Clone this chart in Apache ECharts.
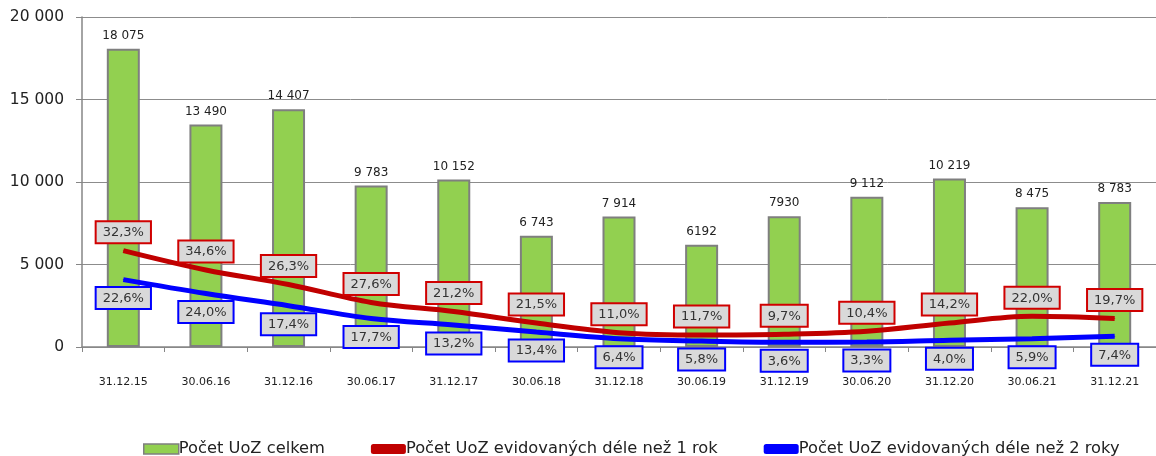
<!DOCTYPE html>
<html>
<head>
<meta charset="utf-8">
<script src="https://cdn.jsdelivr.net/npm/echarts@6/dist/echarts.min.js"></script>
<style>
  html, body { margin: 0; padding: 0; background: #fff; }
  #chart { width: 1156px; height: 456px; }
</style>
</head>
<body>
<div id="chart"></div>
<script>
// data
var categories = ['31.12.15', '30.06.16', '31.12.16', '30.06.17', '31.12.17', '30.06.18', '31.12.18',
  '30.06.19', '31.12.19', '30.06.20', '31.12.20', '30.06.21', '31.12.21']
var totalValues = [18075, 13490, 14407, 9783, 10152, 6743, 7914, 6192, 7930, 9112, 10219, 8475, 8783]
var totalLabels = ['18 075', '13 490', '14 407', '9 783', '10 152', '6 743', '7 914', '6192', '7930',
  '9 112', '10 219', '8 475', '8 783']
var over1Values = [5840, 4670, 3790, 2700, 2150, 1450, 870, 725, 770, 950, 1450, 1865, 1730]
var over1Labels = ['32,3%', '34,6%', '26,3%', '27,6%', '21,2%', '21,5%', '11,0%', '11,7%', '9,7%',
  '10,4%', '14,2%', '22,0%', '19,7%']
var over2Values = [4085, 3240, 2505, 1730, 1340, 905, 505, 360, 285, 300, 410, 500, 650]
var over2Labels = ['22,6%', '24,0%', '17,4%', '17,7%', '13,2%', '13,4%', '6,4%', '5,8%', '3,6%',
  '3,3%', '4,0%', '5,9%', '7,4%']
var yTicks = [0, 5000, 10000, 15000, 20000]

var seriesNames = ['Počet UoZ celkem', 'Počet UoZ evidovaných déle než 1 rok', 'Počet UoZ evidovaných déle než 2 roky']

var chart = echarts.init(document.getElementById('chart'), null, { renderer: 'canvas' })

function boxLabel(labels, border, pos) {
  return {
    show: true,
    position: pos,
    distance: 8,
    formatter: function (p) { return labels[p.dataIndex] },
    fontFamily: 'DejaVu Sans',
    fontSize: 13,
    color: '#333',
    backgroundColor: '#d9d9d9',
    borderColor: border,
    borderWidth: 2,
    padding: [4, 6, 3, 6]
  }
}

chart.setOption({
  animation: false,
  grid: {
    left: 82,
    top: 17,
    bottom: 109,
    width: 1080,
    containLabel: false
  },
  legend: {
    top: 436,
    left: 138,
    itemWidth: 35,
    itemHeight: 10,
    itemGap: 46,
    textStyle: { fontFamily: 'DejaVu Sans', fontSize: 16.3, color: '#222', padding: [0, 0, 0, -5] },
    data: [
      { name: seriesNames[0], icon: 'rect', itemStyle: { borderColor: '#7f7f7f', borderWidth: 1.5 } },
      { name: seriesNames[1], icon: 'roundRect' },
      { name: seriesNames[2], icon: 'roundRect' }
    ]
  },
  xAxis: {
    type: 'category',
    data: categories,
    axisLine: { lineStyle: { color: '#868686', width: 1.5 } },
    axisTick: { show: true, length: 5, lineStyle: { color: '#868686' } },
    axisLabel: { fontFamily: 'DejaVu Sans', fontSize: 11, color: '#222', margin: 30 }
  },
  yAxis: {
    type: 'value',
    min: yTicks[0],
    max: yTicks[yTicks.length - 1],
    interval: 5000,
    axisLine: { show: true, lineStyle: { color: '#868686', width: 1.5 } },
    axisTick: { show: true, length: 6, lineStyle: { color: '#868686' } },
    splitLine: { lineStyle: { color: '#8c8c8c', width: 1 } },
    axisLabel: {
      fontFamily: 'DejaVu Sans',
      fontSize: 15.5,
      color: '#222',
      margin: 18,
      formatter: function (v) { return String(v).replace(/\B(?=(\d{3})+(?!\d))/g, ' ') }
    }
  },
  series: [
    {
      name: seriesNames[0],
      type: 'bar',
      data: totalValues,
      barWidth: 33,
      itemStyle: { color: '#92d050', borderColor: '#7f7f7f', borderWidth: 2 },
      label: {
        show: true,
        position: 'top',
        distance: 7,
        formatter: function (p) { return totalLabels[p.dataIndex] },
        fontFamily: 'DejaVu Sans',
        fontSize: 12,
        color: '#222'
      },
      z: 1
    },
    {
      name: seriesNames[1],
      type: 'line',
      data: over1Values,
      smooth: 0.35,
      symbol: 'circle',
      symbolSize: 1,
      itemStyle: { color: '#c00000' },
      lineStyle: { color: '#c00000', width: 5 },
      label: boxLabel(over1Labels, '#d00000', 'top'),
      z: 3
    },
    {
      name: seriesNames[2],
      type: 'line',
      data: over2Values,
      smooth: 0.35,
      symbol: 'circle',
      symbolSize: 1,
      itemStyle: { color: '#0000ff' },
      lineStyle: { color: '#0000ff', width: 5 },
      label: boxLabel(over2Labels, '#0000ff', 'bottom'),
      z: 2
    }
  ]
})
</script>
</body>
</html>
